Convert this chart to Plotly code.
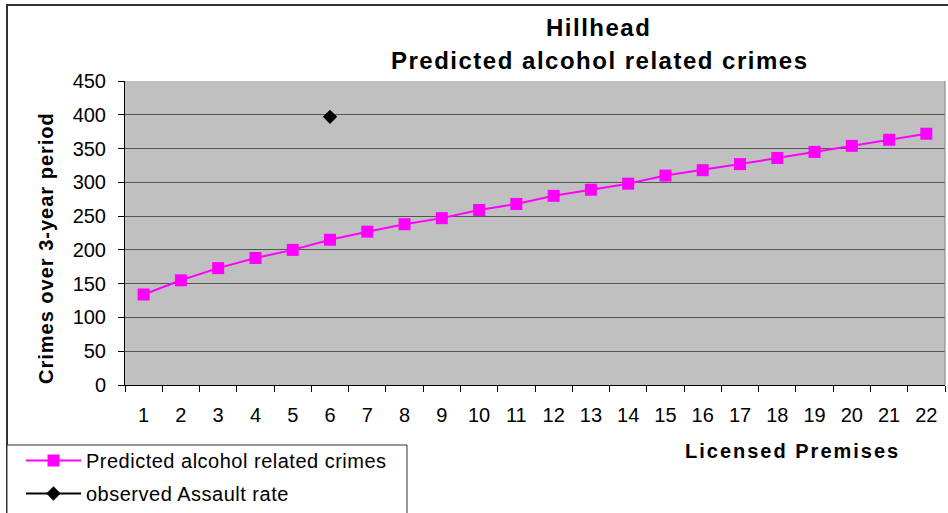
import plotly.graph_objects as go

# ---- data ----
premises = list(range(1, 23))
predicted = [134, 155, 173, 188, 200, 215, 227, 238, 247, 259, 268,
             280, 289, 298, 310, 318, 327, 336, 345, 354, 363, 372]
observed_x = [6]
observed_y = [397]
y_ticks = [0, 50, 100, 150, 200, 250, 300, 350, 400, 450]
title_lines = ["Hillhead", "Predicted alcohol related crimes"]
x_title = "Licensed Premises"
y_title = "Crimes over 3-year period"
series_names = ["Predicted alcohol related crimes", "observed Assault rate"]

FONT = "Arial, 'Liberation Sans', sans-serif"
W, H = 948, 513
L, R, T, B = 125, 3, 81, 128
PW, PH = W - L - R, H - T - B


def px_x(px):
    return (px - L) / PW


def px_y(py):
    return (H - B - py) / PH


def spaced(txt, sp):
    return f'<span style="letter-spacing:{sp}px">{txt}</span>'


fig = go.Figure()
fig.add_trace(go.Scatter(
    x=premises, y=predicted, mode="lines+markers",
    name=spaced(series_names[0], 0.5), legendgroup="a",
    line=dict(color="#FF00FF", width=2),
    marker=dict(symbol="square", size=12, color="#FF00FF"),
))
fig.add_trace(go.Scatter(
    x=observed_x, y=observed_y, mode="lines+markers",
    name=spaced(series_names[1], 0.5), legendgroup="b",
    line=dict(color="#000000", width=2),
    marker=dict(symbol="diamond", size=11, color="#000000"),
))

fig.update_layout(
    width=W, height=H,
    margin=dict(l=L, r=R, t=T, b=B, autoexpand=False),
    paper_bgcolor="white", plot_bgcolor="#C0C0C0",
    font=dict(family=FONT, size=20, color="black"),
    showlegend=True,
    legend=dict(
        x=px_x(21), y=px_y(441), xanchor="left", yanchor="top",
        borderwidth=0, bgcolor="rgba(0,0,0,0)",
        font=dict(family=FONT, size=20, color="black"),
        itemwidth=55, tracegroupgap=4,
    ),
    xaxis=dict(
        range=[0.5, 22.5], tickmode="array", tickvals=premises,
        ticktext=[str(v) for v in premises], ticks="",
        showgrid=False, zeroline=False, showline=True,
        linecolor="black", linewidth=1, ticklabelstandoff=12,
        tickfont=dict(family=FONT, size=20, color="black"),
        minor=dict(tickmode="array",
                   tickvals=[v - 0.5 for v in premises] + [premises[-1] + 0.5],
                   ticks="outside", ticklen=6, tickcolor="black", showgrid=False),
    ),
    yaxis=dict(
        range=[0, 450], tickmode="array", tickvals=y_ticks,
        ticks="outside", ticklen=6, tickcolor="black",
        showgrid=True, gridcolor="#555555", gridwidth=1,
        zeroline=False, showline=True, linecolor="black", linewidth=1,
        ticklabelstandoff=8,
        tickfont=dict(family=FONT, size=20, color="black"),
    ),
    shapes=[
        dict(type="rect", xref="paper", yref="paper",
             x0=px_x(7), x1=px_x(965), y0=px_y(530), y1=px_y(5),
             line=dict(color="#333333", width=2), layer="below"),
        dict(type="rect", xref="paper", yref="paper",
             x0=px_x(7), x1=px_x(407), y0=px_y(530), y1=px_y(445),
             line=dict(color="#333333", width=1), fillcolor="white",
             layer="below"),
        dict(type="line", xref="paper", yref="paper",
             x0=1, x1=1, y0=0, y1=1,
             line=dict(color="#808080", width=1)),
    ],
    annotations=[
        dict(text="<b>" + spaced(title_lines[0], 1.5) + "</b>",
             xref="paper", yref="paper", x=px_x(598.5), y=px_y(27),
             xanchor="center", yanchor="middle", showarrow=False,
             font=dict(family=FONT, size=24, color="black")),
        dict(text="<b>" + spaced(title_lines[1], 1.5) + "</b>",
             xref="paper", yref="paper", x=px_x(599), y=px_y(61),
             xanchor="center", yanchor="middle", showarrow=False,
             font=dict(family=FONT, size=24, color="black")),
        dict(text="<b>" + spaced(x_title, 2) + "</b>",
             xref="paper", yref="paper", x=px_x(792), y=px_y(451),
             xanchor="center", yanchor="middle", showarrow=False,
             font=dict(family=FONT, size=20, color="black")),
        dict(text="<b>" + spaced(y_title, 1) + "</b>",
             xref="paper", yref="paper", x=px_x(46), y=px_y(248),
             xanchor="center", yanchor="middle", showarrow=False,
             textangle=-90,
             font=dict(family=FONT, size=20, color="black")),
    ],
)

fig.write_html(
    "out.html",
    config={"displayModeBar": False},
    post_script="document.body.style.margin='0';document.body.style.overflow='hidden';",
)
